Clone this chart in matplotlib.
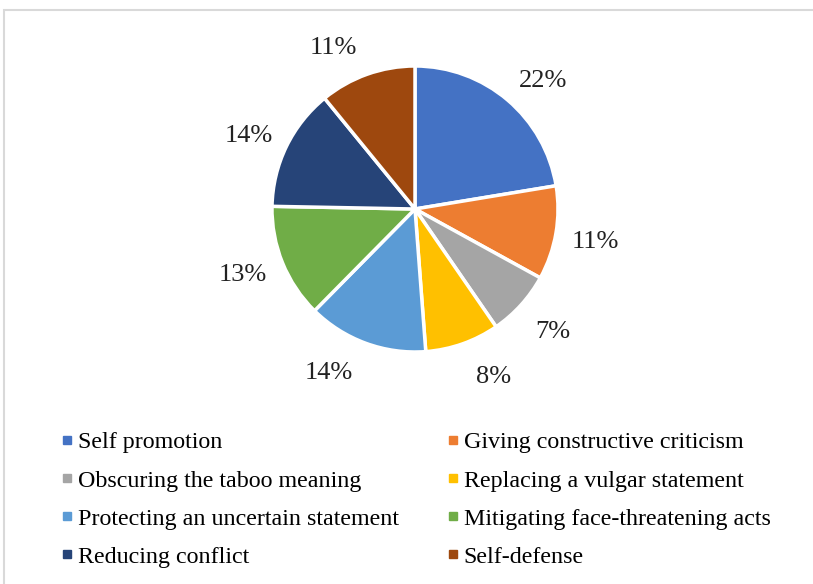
import numpy as np
import matplotlib.pyplot as plt
from matplotlib.lines import Line2D
from matplotlib.patches import Rectangle

# === Data ===
categories = [
    "Self promotion",
    "Giving constructive criticism",
    "Obscuring the taboo meaning",
    "Replacing a vulgar statement",
    "Protecting an uncertain statement",
    "Mitigating face-threatening acts",
    "Reducing conflict",
    "Self-defense",
]
# slice sizes; labels show them rounded
shares = [22.4, 10.6, 7.4, 8.4, 13.6, 12.9, 13.8, 10.9]
colors = ["#4472C4", "#ED7D31", "#A5A5A5", "#FFC000",
          "#5B9BD5", "#70AD47", "#264478", "#9E480E"]

# Excel "best fit" label placement: small angular nudges (deg) from wedge middle
LABEL_NUDGE = [-4, 0, 1, 6, -8, -2, 1.5, 7]
LABEL_DIST = 1.28

plt.rcParams["font.family"] = ["Liberation Serif", "DejaVu Serif"]

W, H = 813, 584
fig = plt.figure(figsize=(W / 100, H / 100), dpi=100)

# light chart-area frame (only top and left edges visible)
fig.patches.append(Rectangle((4 / W, -0.1), 1.2, (H - 10) / H + 0.1,
                             transform=fig.transFigure, fill=False,
                             edgecolor="#D9D9D9", lw=1.5))

cx, cy, r = 415, 209, 143
ax = fig.add_axes([(cx - r) / W, (H - cy - r) / H, 2 * r / W, 2 * r / H])
wedges, _ = ax.pie(
    shares,
    colors=colors,
    startangle=90,
    counterclock=False,
    wedgeprops=dict(edgecolor="white", linewidth=2.5),
)
for w, v, nudge in zip(wedges, shares, LABEL_NUDGE):
    ang = np.deg2rad((w.theta1 + w.theta2) / 2 + nudge)
    ax.text(LABEL_DIST * np.cos(ang), LABEL_DIST * np.sin(ang), f"{round(v)}%",
            ha="center", va="center_baseline", fontsize=19, color="#222222")
ax.set_xlim(-1, 1)
ax.set_ylim(-1, 1)
ax.set_aspect("equal")

# legend, row-major in two columns like the original
order = [0, 2, 4, 6, 1, 3, 5, 7]
handles = [Line2D([], [], marker="s", ls="", color=colors[i], markersize=6) for i in order]
labels = [categories[i] for i in order]
fig.legend(handles, labels, ncol=2, loc="upper left",
           bbox_to_anchor=(50 / W, 1 - 422 / H), frameon=False,
           fontsize=17.3, handlelength=0.6, handletextpad=0.15,
           columnspacing=1.95, labelspacing=0.68, borderaxespad=0)

fig.savefig("out.png", dpi=100)
